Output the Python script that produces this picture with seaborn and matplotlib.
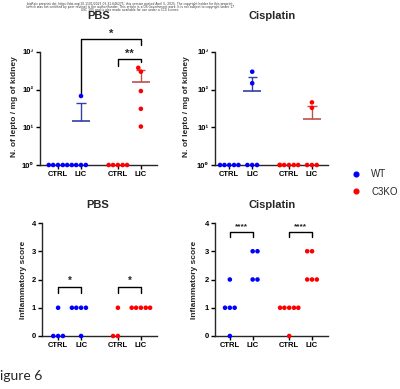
# plot.py
import pandas as pd
import seaborn as sns
import matplotlib.pyplot as plt
from matplotlib.lines import Line2D
from matplotlib.ticker import NullLocator

# ---- data ----
genotypes = ["WT", "C3KO"]
treat_groups = ["CTRL", "LIC"]

# N. of lepto / mg of kidney
pbs_lepto_wt_ctrl = [1, 1, 1, 1, 1]
pbs_lepto_wt_lic = [1, 1, 1, 1, 68]
pbs_lepto_ko_ctrl = [1, 1, 1, 1, 1]
pbs_lepto_ko_lic = [10.5, 31, 92, 300, 380]

cis_lepto_wt_ctrl = [1, 1, 1, 1, 1]
cis_lepto_wt_lic = [1, 1, 1, 148, 300]
cis_lepto_ko_ctrl = [1, 1, 1, 1, 1, 1]
cis_lepto_ko_lic = [1, 1, 1, 33, 46]

# Inflammatory score
pbs_score_wt_ctrl = [0, 0, 0, 1]
pbs_score_wt_lic = [1, 1, 1, 1, 0]
pbs_score_ko_ctrl = [0, 0, 1]
pbs_score_ko_lic = [1, 1, 1, 1, 1]

cis_score_wt_ctrl = [0, 1, 1, 1, 2]
cis_score_wt_lic = [2, 2, 3, 3]
cis_score_ko_ctrl = [0, 1, 1, 1, 1, 1]
cis_score_ko_lic = [2, 2, 2, 3, 3]

# ---- style ----
sns.set_style("ticks")
plt.rcParams["font.family"] = ["Liberation Sans", "DejaVu Sans"]
plt.rcParams["axes.linewidth"] = 1.0

palette = {"WT": "#0000ff", "C3KO": "#ff0000"}
bar_colors = {"WT": "#3340a0", "C3KO": "#c0504d"}
x_pos = [0, 1, 2.6, 3.6]
dot = 3.3


def make_df(wt_ctrl, wt_lic, ko_ctrl, ko_lic):
    rows = []
    sets = [("WT", "CTRL", wt_ctrl), ("WT", "LIC", wt_lic),
            ("C3KO", "CTRL", ko_ctrl), ("C3KO", "LIC", ko_lic)]
    for (g, t, vals), p in zip(sets, x_pos):
        for v in vals:
            rows.append({"genotype": g, "group": t, "pos": p, "value": v})
    return pd.DataFrame(rows)


def style_axis(ax, xlim):
    ax.set_xlim(*xlim)
    ax.set_xticks(x_pos)
    ax.set_xticklabels(["CTRL", "LIC", "CTRL", "LIC"], fontweight="bold", fontsize=5.5)
    ax.tick_params(axis="both", length=3, width=1, pad=1.5, colors="black")
    ax.tick_params(axis="y", labelsize=5.5)
    for lab in ax.get_yticklabels():
        lab.set_fontweight("bold")
    ax.set_xlabel("")
    ax.set_ylabel("")
    sns.despine(ax=ax)


def bracket(ax, x1, x2, ytop, yl, yr, text, fs=8, dy=0.0):
    ax.plot([x1, x1, x2, x2], [yl, ytop, ytop, yr], color="black", lw=1.0,
            clip_on=False)
    ax.text((x1 + x2) / 2, ytop + dy, text, ha="center", va="bottom",
            fontsize=fs, fontweight="bold")


def lepto_panel(ax, df, xlim):
    ax.set_yscale("log")
    sns.swarmplot(data=df, x="pos", y="value", hue="genotype", palette=palette,
                  native_scale=True, size=dot, legend=False,
                  ax=ax, clip_on=False, zorder=3)
    stats = df.groupby(["genotype", "pos"])["value"].agg(["mean", "std"])
    for (g, p), row in stats.iterrows():
        if row["std"] == 0:
            continue
        c = bar_colors[g]
        top = row["mean"] + row["std"]
        ax.hlines(row["mean"], p - 0.38, p + 0.38, color=c, lw=1.2, zorder=2)
        ax.vlines(p, row["mean"], top, color=c, lw=1.0, zorder=2)
        ax.hlines(top, p - 0.2, p + 0.2, color=c, lw=1.0, zorder=2)
    ax.set_ylim(1, 1000)
    ax.set_yticks([1, 10, 100, 1000])
    ax.set_yticklabels(["10⁰", "10¹", "10²", "10³"])
    ax.yaxis.set_minor_locator(NullLocator())
    style_axis(ax, xlim)


def score_panel(ax, df, xlim):
    sns.swarmplot(data=df, x="pos", y="value", hue="genotype", palette=palette,
                  native_scale=True, size=dot, legend=False,
                  ax=ax, clip_on=False, zorder=3)
    ax.set_ylim(0, 4)
    ax.set_yticks([0, 1, 2, 3, 4])
    ax.set_yticklabels(["0", "1", "2", "3", "4"])
    style_axis(ax, xlim)


W, H = 400, 389
fig = plt.figure(figsize=(4.0, 3.89), dpi=100)


def fax(x0, y0, x1, y1):
    return fig.add_axes([x0 / W, 1 - y1 / H, (x1 - x0) / W, (y1 - y0) / H])


ax1 = fax(40, 52, 157, 165)
ax2 = fax(215, 52, 328, 165)
ax3 = fax(42, 223, 157, 336)
ax4 = fax(215, 223, 328, 336)

lepto_panel(ax1, make_df(pbs_lepto_wt_ctrl, pbs_lepto_wt_lic,
                         pbs_lepto_ko_ctrl, pbs_lepto_ko_lic), (-0.78, 4.3))
lepto_panel(ax2, make_df(cis_lepto_wt_ctrl, cis_lepto_wt_lic,
                         cis_lepto_ko_ctrl, cis_lepto_ko_lic), (-0.62, 4.3))
score_panel(ax3, make_df(pbs_score_wt_ctrl, pbs_score_wt_lic,
                         pbs_score_ko_ctrl, pbs_score_ko_lic), (-0.7, 4.3))
score_panel(ax4, make_df(cis_score_wt_ctrl, cis_score_wt_lic,
                         cis_score_ko_ctrl, cis_score_ko_lic), (-0.65, 4.3))

# significance
bracket(ax1, 1, 3.6, 2230, 82, 1540, "*", fs=8)
bracket(ax1, 2.6, 3.6, 650, 425, 540, "**", fs=8)
bracket(ax3, 0, 1, 1.73, 1.52, 1.52, "*", fs=7, dy=0.05)
bracket(ax3, 2.6, 3.6, 1.73, 1.52, 1.52, "*", fs=7, dy=0.05)
bracket(ax4, 0, 1, 3.68, 3.5, 3.5, "****", fs=6, dy=0.05)
bracket(ax4, 2.6, 3.6, 3.68, 3.5, 3.5, "****", fs=6, dy=0.05)

# titles and axis labels
for x, y, t in [(99, 16, "PBS"), (272, 16, "Cisplatin"),
                (98, 205, "PBS"), (272, 205, "Cisplatin")]:
    fig.text(x / W, 1 - y / H, t, ha="center", va="center",
             fontsize=8, fontweight="bold")
for x, y, t in [(15, 107, "N. of lepto / mg of kidney"),
                (186, 107, "N. of lepto / mg of kidney"),
                (24, 280, "Inflammatory score"),
                (194, 280, "Inflammatory score")]:
    fig.text(x / W, 1 - y / H, t, ha="center", va="center", rotation=90,
             fontsize=6, fontweight="bold")

# legend
handles = [Line2D([], [], marker="o", ls="", color=palette[g], markersize=3.4)
           for g in genotypes]
fig.legend(handles, genotypes, loc="center left",
           bbox_to_anchor=(338 / W, 1 - 183 / H), frameon=False, fontsize=7,
           handletextpad=0.5, labelspacing=0.8)

# preprint header
header = ["bioRxiv preprint doi: https://doi.org/10.1101/2025.03.31.646275; this version posted April 5, 2025. The copyright holder for this preprint",
          "(which was not certified by peer review) is the author/funder. This article is a US Government work. It is not subject to copyright under 17",
          "USC 105 and is also made available for use under a CC0 license."]
for i, line in enumerate(header):
    fig.text(130 / W, 1 - (3.5 + 3.2 * i) / H, line, ha="center", va="center",
             fontsize=2.2, color="#333333", family="DejaVu Sans")

fig.text(0 / W, 1 - 376 / H, "igure 6", ha="left", va="center",
         fontsize=10, family="Lato")

plt.savefig("out.png", dpi=100)
print("saved out.png")
